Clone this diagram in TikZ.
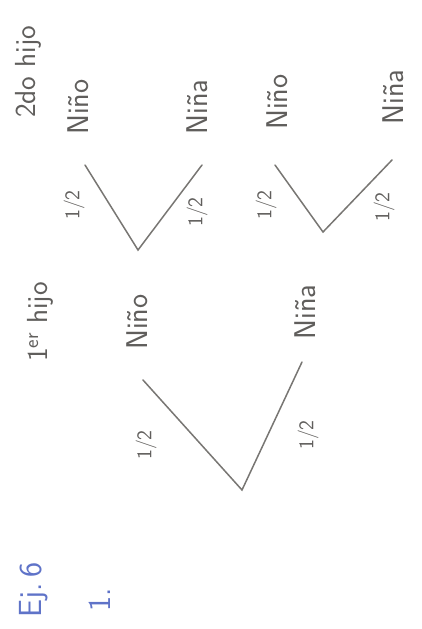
\documentclass[tikz,border=0pt]{standalone}
\usepackage{tikz}
\usetikzlibrary{positioning}
\definecolor{inkGray}{RGB}{120,118,115}
\definecolor{inkBlue}{RGB}{ 95,115,200}
\tikzset{
    branch/.style={draw=inkGray, line width=1.5pt, line cap=round},
    kid/.style={rotate=90, font=\sffamily\fontsize{30}{30}\selectfont, text=inkGray!80!black, inner sep=0pt},
    prob/.style={rotate=90, font=\sffamily\fontsize{21}{21}\selectfont, text=inkGray!80!black, inner sep=0pt},
    head/.style={rotate=90, font=\sffamily\fontsize{29}{29}\selectfont, text=inkGray!80!black, inner sep=0pt},
    ejnode/.style={rotate=90, font=\sffamily\fontsize{32}{32}\selectfont, text=inkBlue, inner sep=0pt}
}
\begin{document}
\begin{tikzpicture}[x=1pt, y=1pt]
      \useasboundingbox (0,0) rectangle (421,-629);
      % headings
      \node[head] (h2) at (28,-72)  {2do hijo};
      \node[head] (h1) at (40,-322) {1\textsuperscript{er} hijo};
      \node[ejnode] (ej) at (34,-590) {Ej.\,6};
      \node[ejnode] (n1) at (100,-600) {1.};
      % first child
      \coordinate (R)  at (242,-490);
      \coordinate (A)  at (143,-380);
      \coordinate (B)  at (302,-362);
      \node[kid] (kA) at (137,-322) {Niño};
      \node[kid] (kB) at (305,-312) {Niña};
      \node[prob] (pA) at (146,-445) {1/2};
      \node[prob] (pB) at (308,-435) {1/2};
      \draw[branch] (A) -- (R) -- (B);
      % second child, after a boy
      \coordinate (RA) at (138,-250);
      \coordinate (AA) at (85,-165);
      \coordinate (AB) at (202,-165);
      \node[kid] (kAA) at (78,-107)  {Niño};
      \node[kid] (kAB) at (197,-107) {Niña};
      \node[prob] (pAA) at (74,-205)  {1/2};
      \node[prob] (pAB) at (197,-212) {1/2};
      \draw[branch] (AA) -- (RA) -- (AB);
      % second child, after a girl
      \coordinate (RB) at (323,-232);
      \coordinate (BA) at (275,-165);
      \coordinate (BB) at (392,-160);
      \node[kid] (kBA) at (277,-102) {Niño};
      \node[kid] (kBB) at (393,-97)  {Niña};
      \node[prob] (pBA) at (266,-205) {1/2};
      \node[prob] (pBB) at (384,-207) {1/2};
      \draw[branch] (BA) -- (RB) -- (BB);
    \end{tikzpicture}
\end{document}
